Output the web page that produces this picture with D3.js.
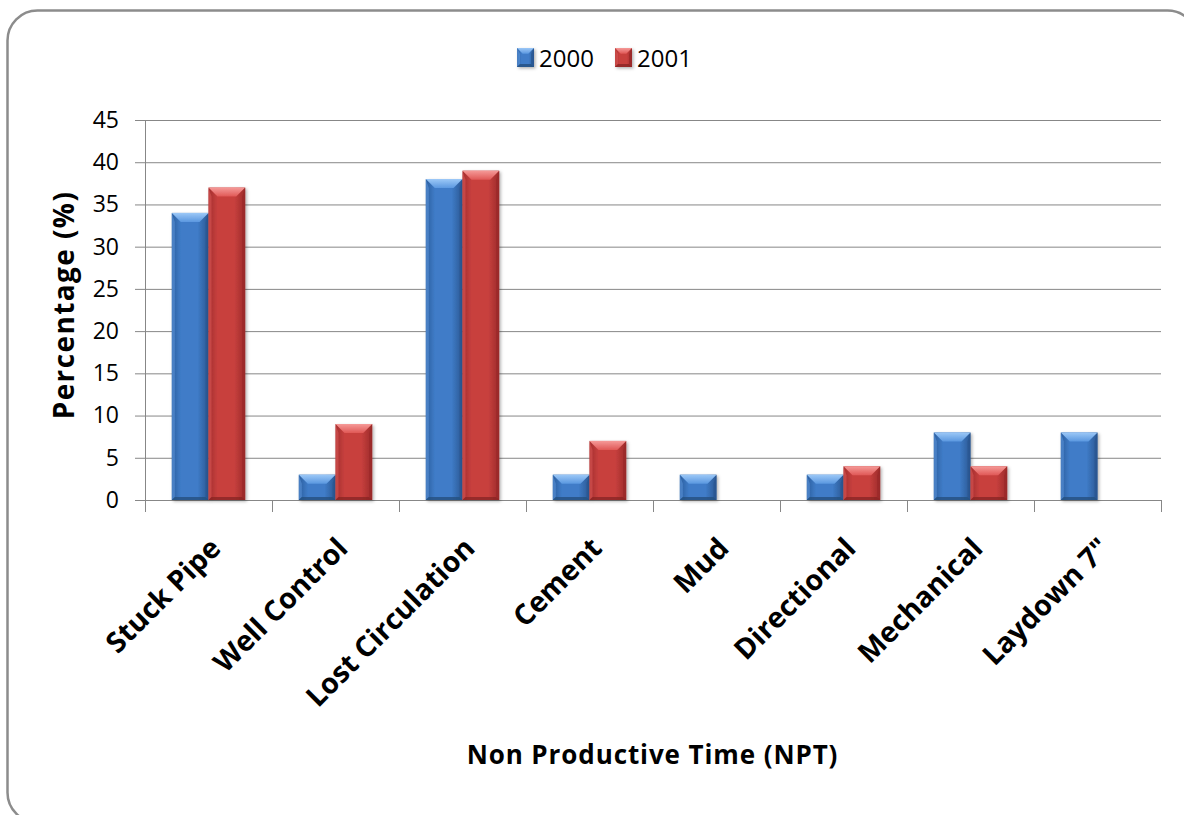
<!DOCTYPE html>
<html>
<head>
<meta charset="utf-8">
<script src="https://cdn.jsdelivr.net/npm/d3@7"></script>
<style>
  html, body { margin: 0; padding: 0; background: #fff; }
  svg { display: block; }
  text { font-family: "Open Sans", "DejaVu Sans", sans-serif; fill: #000; }
</style>
</head>
<body>
<svg id="chart" width="1184" height="815"></svg>
<script>
// NPT breakdown by category, two years
const categories = ["Stuck Pipe", "Well Control", "Lost Circulation", "Cement", "Mud", "Directional", "Mechanical", "Laydown 7\""];
const years = ["2000", "2001"];
const values2000 = [34, 3, 38, 3, 3, 3, 8, 8];
const values2001 = [37, 9, 39, 7, 0, 4, 4, 0];
const yTicks = [0, 5, 10, 15, 20, 25, 30, 35, 40, 45];

const margin = { left: 145, right: 1161, top: 120, bottom: 500 };

const svg = d3.select("#chart");
const defs = svg.append("defs");

// palettes for the bevelled bars
const palette = {
  "2000": { edgeL: "#2c5f9f", mid: "#3f7cc8", edgeR: "#2b5893", top0: "#9cc8f7", top1: "#5b98e0", bottom: "#25507f", left: "#5a93d8", right: "#2a5690" },
  "2001": { edgeL: "#a32f2e", mid: "#c8403e", edgeR: "#9c2b2a", top0: "#f59a98", top1: "#e05856", bottom: "#8a2624", left: "#d85553", right: "#982a29" }
};

Object.entries(palette).forEach(([k, p]) => {
  const g = defs.append("linearGradient").attr("id", "body" + k).attr("x1", 0).attr("x2", 1).attr("y1", 0).attr("y2", 0);
  g.append("stop").attr("offset", 0).attr("stop-color", p.edgeL);
  g.append("stop").attr("offset", 0.25).attr("stop-color", p.mid);
  g.append("stop").attr("offset", 0.7).attr("stop-color", p.mid);
  g.append("stop").attr("offset", 1).attr("stop-color", p.edgeR);
  const t = defs.append("linearGradient").attr("id", "top" + k).attr("x1", 0).attr("x2", 0).attr("y1", 0).attr("y2", 1);
  t.append("stop").attr("offset", 0).attr("stop-color", p.top0);
  t.append("stop").attr("offset", 1).attr("stop-color", p.top1);
});

const shadow = defs.append("filter").attr("id", "shadow").attr("x", "-20%").attr("y", "-20%").attr("width", "150%").attr("height", "150%");
shadow.append("feDropShadow").attr("dx", 1.5).attr("dy", 1.5).attr("stdDeviation", 1.5).attr("flood-color", "#000").attr("flood-opacity", 0.3);

// chart frame
svg.append("rect")
  .attr("x", 7.5).attr("y", 10.5).attr("width", 1190).attr("height", 812).attr("rx", 30)
  .attr("fill", "#fff").attr("stroke", "#8c8c8c").attr("stroke-width", 2.5);

const x = d3.scaleBand().domain(categories).range([margin.left, margin.right]).paddingInner(0).paddingOuter(0);
const xs = d3.scaleBand().domain(years).range([0, x.bandwidth()]).paddingInner(0).paddingOuter(0.73);
const y = d3.scaleLinear().domain([0, 45]).range([margin.bottom, margin.top]);

const gridColor = "#878787";

// y axis with gridlines
const yAxis = svg.append("g")
  .attr("transform", `translate(${margin.left},0)`)
  .call(d3.axisLeft(y).tickValues(yTicks).tickSize(10).tickPadding(16).tickFormat(d3.format("d")));
yAxis.select(".domain").attr("stroke", gridColor);
yAxis.selectAll(".tick line").attr("stroke", gridColor);
yAxis.selectAll(".tick text").attr("font-size", 23).attr("font-family", "\"Open Sans\", sans-serif").attr("fill", "#222");
yAxis.selectAll(".tick").filter(d => d !== 0).append("line")
  .attr("x1", 0).attr("x2", margin.right - margin.left)
  .attr("stroke", gridColor).attr("stroke-width", 1);

// x axis
const xAxis = svg.append("g")
  .attr("transform", `translate(0,${margin.bottom})`)
  .call(d3.axisBottom(x).tickSize(0).tickFormat(""));
xAxis.select(".domain").attr("stroke", gridColor);
const boundaries = categories.map(c => x(c)).concat([margin.right]);
xAxis.selectAll(".boundary").data(boundaries).join("line")
  .attr("class", "boundary")
  .attr("x1", d => d + 0.5).attr("x2", d => d + 0.5)
  .attr("y1", 0).attr("y2", 12)
  .attr("stroke", gridColor);

// bevelled bar
function bar(g, x0, y0, w, h, key) {
  const p = palette[key];
  const b = Math.min(9, h / 2, w / 3);
  const grp = g.append("g").attr("filter", "url(#shadow)");
  grp.append("rect").attr("x", x0).attr("y", y0).attr("width", w).attr("height", h).attr("fill", `url(#body${key})`);
  const s = Math.min(3, b);
  // left and right side bevels
  grp.append("polygon").attr("points", [[x0, y0], [x0 + s, y0 + b], [x0 + s, y0 + h - s], [x0, y0 + h]].join(" ")).attr("fill", p.left).attr("opacity", 0.6);
  grp.append("polygon").attr("points", [[x0 + w, y0], [x0 + w - s, y0 + b], [x0 + w - s, y0 + h - s], [x0 + w, y0 + h]].join(" ")).attr("fill", p.right).attr("opacity", 0.7);
  // bottom bevel
  grp.append("polygon").attr("points", [[x0, y0 + h], [x0 + s, y0 + h - s], [x0 + w - s, y0 + h - s], [x0 + w, y0 + h]].join(" ")).attr("fill", p.bottom).attr("opacity", 0.8);
  // top bevel
  grp.append("polygon").attr("points", [[x0, y0], [x0 + w, y0], [x0 + w - b, y0 + b], [x0 + b, y0 + b]].join(" ")).attr("fill", `url(#top${key})`);
}

const barsG = svg.append("g");
const series = { "2000": values2000, "2001": values2001 };
years.forEach(yr => {
  series[yr].forEach((v, i) => {
    if (v <= 0) return;
    const c = categories[i];
    const x0 = x(c) + xs(yr);
    bar(barsG, x0, y(v), xs.bandwidth(), y(0) - y(v), yr);
  });
});

// category labels
svg.append("g").selectAll("text").data(categories).join("text")
  .attr("transform", d => `translate(${x(d) + x.bandwidth() / 2 + 14},${margin.bottom + 50}) rotate(-45)`)
  .attr("text-anchor", "end")
  .attr("font-size", 28.5).attr("font-weight", "bold")
  .text(d => d);

// axis titles
svg.append("text")
  .attr("x", (margin.left + margin.right) / 2 - 0.5).attr("y", 764)
  .attr("text-anchor", "middle").attr("font-size", 26).attr("font-weight", "bold")
  .attr("letter-spacing", 0.9)
  .text("Non Productive Time (NPT)");

svg.append("text")
  .attr("transform", `translate(74,${(margin.top + margin.bottom) / 2 - 5}) rotate(-90)`)
  .attr("text-anchor", "middle").attr("font-size", 28).attr("font-weight", "bold")
  .attr("letter-spacing", 1.4)
  .text("Percentage (%)");

// legend
const legend = svg.append("g");
const legendItems = [{ key: "2000", x: 517 }, { key: "2001", x: 615 }];
legendItems.forEach(it => {
  bar(legend, it.x, 48, 17, 19, it.key);
  legend.append("text").attr("x", it.x + 22).attr("y", 67).attr("font-size", 24).attr("fill", "#222").text(it.key);
});
</script>
</body>
</html>
